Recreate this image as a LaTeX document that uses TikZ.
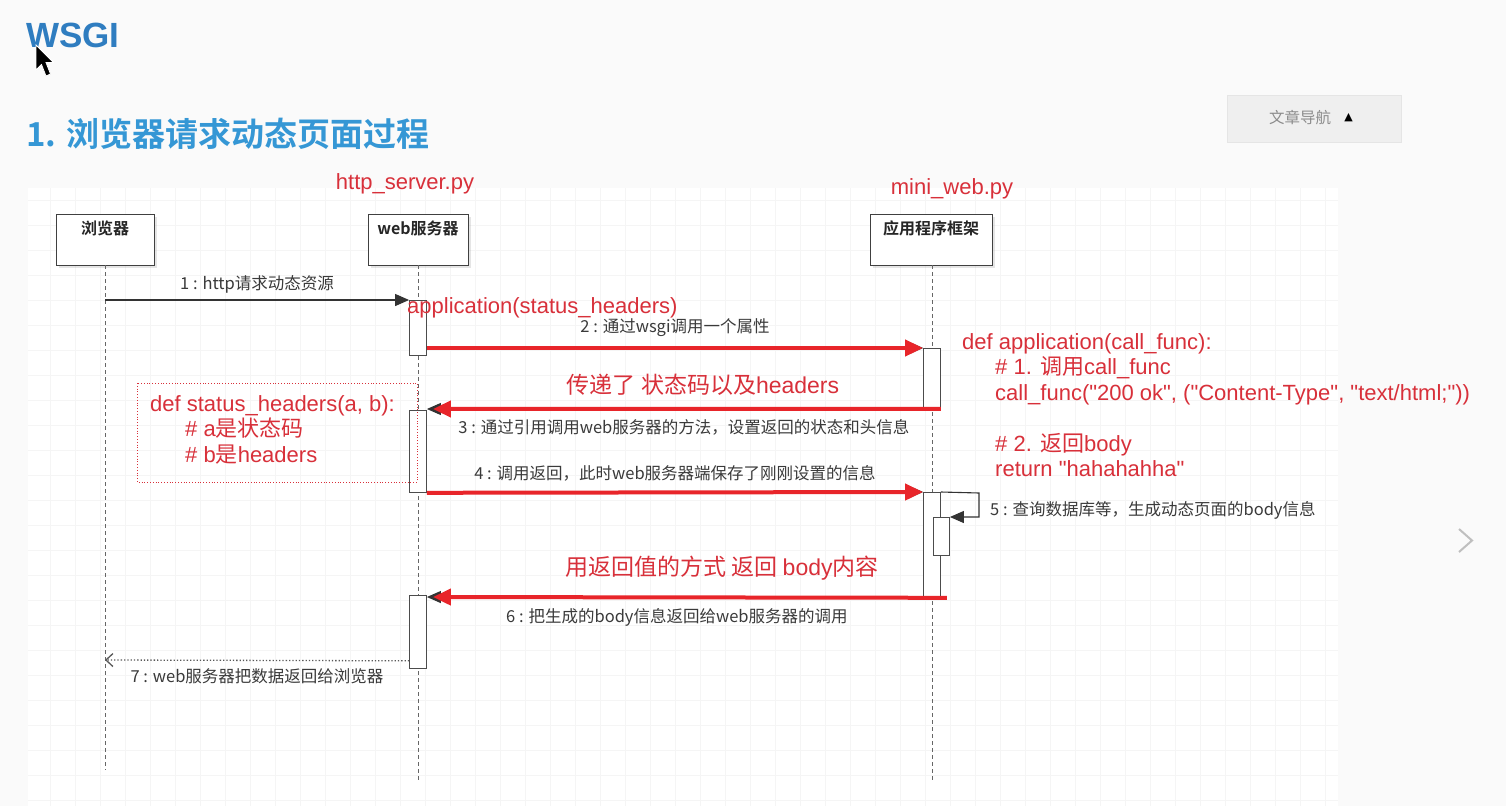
\documentclass[tikz,border=0pt]{standalone}
\usepackage{fontspec}
\setmainfont{Liberation Sans}
\newfontfamily\cjk{Noto Sans CJK SC}[BoldFont={Noto Sans CJK SC Bold}]
\newfontfamily\codefont{Liberation Sans}
\newfontfamily\symfont{DejaVu Sans}
\usepackage{xcolor}
\usetikzlibrary{positioning,arrows.meta,calc,shadows}

\definecolor{titleblue}{HTML}{2F7DC0}
\definecolor{headblue}{HTML}{3597D5}
\definecolor{notered}{HTML}{D8303A}
\definecolor{arrowred}{HTML}{E8252A}
\definecolor{labelgray}{HTML}{3A3A3A}
\definecolor{gridgray}{HTML}{F5F5F5}
\definecolor{navfill}{HTML}{EFEFEF}
\newcommand{\zh}[1]{{\cjk #1}}

\begin{document}
\begin{tikzpicture}[x=1pt, y=-1pt,
  every node/.style={inner sep=0pt},
  lifebox/.style={draw=black!75, fill=white, line width=0.8pt, minimum height=51pt,
    drop shadow={shadow xshift=3pt, shadow yshift=-3pt, opacity=0.2}},
  boxtitle/.style={font=\cjk\bfseries\fontsize{16}{18}\selectfont, text=black!85},
  lifeline/.style={draw=black!60, line width=0.8pt, dash pattern=on 4pt off 3pt},
  act/.style={draw=black!70, fill=white, line width=0.8pt, minimum width=17pt},
  msg/.style={draw=black!80, line width=1.1pt, -{Triangle[length=14pt, width=12pt]}},
  retmsg/.style={draw=black!65, line width=1.3pt, dotted, -{Straight Barb[length=7pt, width=13pt]}},
  redmsg/.style={draw=arrowred, line width=4pt, -{Triangle[length=18pt, width=16pt]}},
  msglabel/.style={font=\cjk\fontsize{16.5}{18}\selectfont, text=labelgray},
  note/.style={font=\codefont\fontsize{22}{25.5}\selectfont, text=notered, align=left},
  bignote/.style={font=\codefont\fontsize{23}{26}\selectfont, text=notered},
]
\useasboundingbox (0,0) rectangle (1506,806);
\fill[white!98!black] (0,0) rectangle (1506,806);

% panel with grid
\fill[white] (28,188) rectangle (1338,806);
\draw[gridgray, step=25pt] (28,188) grid (1338,806);

% page header
\node[anchor=west, font=\bfseries\fontsize{35}{38}\selectfont, text=titleblue] (wsgi) at (26,35) {WSGI};
\node[anchor=west, font=\cjk\bfseries\fontsize{33}{36}\selectfont, text=headblue] (heading) at (26,134) {1. 浏览器请求动态页面过程};
\node[draw=black!10, fill=navfill, minimum width=174pt, minimum height=47pt] (nav) at (1314,118.5) {};
\node[font=\cjk\fontsize{15.5}{17}\selectfont, text=black!45] (navtext) at (1300,118) {文章导航};
\node[font=\symfont\fontsize{11}{12}\selectfont, right=13pt of navtext] (navarrow) {▲};
\draw[black!25, line width=2pt] (1459,529) -- (1472,540.5) -- (1459,552);

% mouse pointer
\filldraw[fill=black, draw=white, line width=0.8pt]
  (36,45) -- (36,70) -- (41.5,64.5) -- (46,76) -- (50.5,74) -- (46,62.5) -- (53.5,62.5) -- cycle;

% file names
\node[bignote, font=\codefont\fontsize{22}{24}\selectfont] (srvfile) at (405,184) {http\_server.py};
\node[bignote, font=\codefont\fontsize{22}{24}\selectfont] (appfile) at (952,189) {mini\_web.py};

% participants
\node[lifebox, minimum width=98pt] (browser) at (105,239.5) {};
\node[lifebox, minimum width=100pt] (server) at (418,239.5) {};
\node[lifebox, minimum width=122pt] (app) at (931,239.5) {};
\node[boxtitle, below=7pt of browser.north] (browser-t) {浏览器};
\node[boxtitle, below=7pt of server.north] (server-t) {web服务器};
\node[boxtitle, below=7pt of app.north] (app-t) {应用程序框架};

\coordinate (browser-end) at (105,770);
\coordinate (server-end) at (418,780);
\coordinate (app-end) at (932,780);
\draw[lifeline] (browser.south) -- (browser-end);
\draw[lifeline] (server.south) -- (server-end);
\draw[lifeline] (app.south -| app-end) -- (app-end);

% activations
\node[act, anchor=north, minimum height=55pt] (act1) at (418,300) {};
\node[act, anchor=north, minimum height=60pt] (act2) at (932,348) {};
\node[act, anchor=north, minimum height=82pt] (act3) at (418,410) {};
\node[act, anchor=north, minimum height=106pt] (act4) at (932,492) {};
\node[act, anchor=north, minimum height=38pt, minimum width=16pt] (act5) at (941.5,517) {};
\node[act, anchor=north, minimum height=73pt] (act6) at (418,595) {};

\coordinate (m1) at (105,300);
\coordinate (m7) at (105,660);
\coordinate (m5) at (979,493);

% messages
\draw[msg] (m1) -- node[msglabel, above=6pt] (l1) {1 : http请求动态资源} (act1.north west);
\draw[msg] (act1.east |- act2.north) -- (act2.north west);
\draw[redmsg] (act1.east |- act2.north) -- node[msglabel, above=9pt] (l2) {2 : 通过wsgi调用一个属性} (act2.north west);
\draw[msg] (act2.south east) -- ($(act3.north east)+(0,-1)$);
\draw[redmsg, shorten >=6pt] (act2.south east) -- node[msglabel, below=9pt] (l3) {3 : 通过引用调用web服务器的方法，设置返回的状态和头信息} ($(act3.north east)+(0,-1)$);
\draw[msg] (act3.south east) -- (act4.north west);
\draw[redmsg] (act3.south east) -- node[msglabel, above=9pt] (l4) {4 : 调用返回，此时web服务器端保存了刚刚设置的信息} (act4.north west);
\draw[msg] (act4.north east) -- (m5) |- (act5.north east);
\node[msglabel, anchor=west] (l5) at (990,510) {5 : 查询数据库等，生成动态页面的body信息};
\draw[msg] ($(act4.south east)+(6,-1)$) -- ($(act6.north east)+(0,2)$);
\draw[redmsg, shorten >=6pt] ($(act4.south east)+(6,-1)$) -- node[msglabel, below=9pt, xshift=-10pt] (l6) {6 : 把生成的body信息返回给web服务器的调用} ($(act6.north east)+(0,2)$);
\draw[retmsg] ($(act6.south west)+(0,-8)$) -- node[msglabel, below=8pt] (l7) {7 : web服务器把数据返回给浏览器} (m7);

% annotations
\node[note, anchor=west] (appcall) at (407,308) {application(status\_headers)};
\node[note, anchor=north west] (appcode) at (962,333) {def application(call\_func):\\
\hspace*{33pt}\# 1. \zh{调用}call\_func\\
\hspace*{33pt}call\_func("200 ok", ("Content-Type", "text/html;"))\\[25.5pt]
\hspace*{33pt}\# 2. \zh{返回}body\\
\hspace*{33pt}return "hahahahha"};
\node[bignote] (passnote) at (703,385) {\zh{传递了 状态码以及}headers};
\node[bignote] (bodynote) at (722,568) {\zh{用返回值的方式 返回 }body\zh{内容}};
\draw[notered, dotted, line width=0.8pt] (137,383) rectangle (417,482);
\node[note, anchor=north west] (statuscode) at (150,395) {def status\_headers(a, b):\\
\hspace*{35pt}\# a\zh{是状态码}\\
\hspace*{35pt}\# b\zh{是}headers};
\end{tikzpicture}
\end{document}
